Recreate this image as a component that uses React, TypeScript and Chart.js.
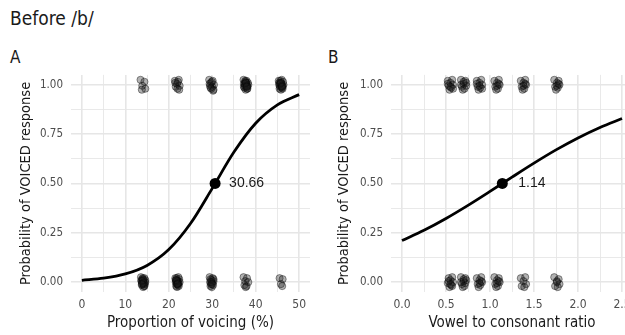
import React, { useEffect, useRef } from 'react';
import { Chart, registerables } from 'chart.js';
Chart.register(...registerables);

const FONT = '"Liberation Sans Narrow", "DejaVu Sans Condensed", "Roboto Condensed", sans-serif';
const LABEL_FONT = '"Liberation Sans", Arial, sans-serif';

// ---------- Panel A data: proportion of voicing (%) ----------
const voicingTicks = [0, 5, 10, 15, 20, 25, 30, 35, 40, 45, 50];
const voicingTickLabels = ['0', '', '10', '', '20', '', '30', '', '40', '', '50'];
const voicingTopX = [
  13.5, 14.4, 13.9, 14.6, 13.8,
  21.4, 22.3, 21.9, 21.6, 22.5, 22.0, 22.4, 21.5, 22.1,
  29.3, 30.1, 29.7, 30.4, 29.5, 30.0, 29.8, 30.3, 29.4, 29.9, 29.6, 30.2,
  37.2, 37.9, 37.6, 38.2, 37.3, 37.8, 37.5, 38.1, 37.4, 38.0, 37.7, 38.3, 37.3, 37.8, 37.6, 38.1, 37.5, 38.0, 37.7, 37.9,
  45.3, 46.0, 45.7, 46.3, 45.4, 45.9, 45.6, 46.2, 45.5, 46.1, 45.8, 46.4, 45.4, 45.9, 45.7, 46.2, 45.6, 46.0, 45.8, 46.1,
];
const voicingTopY = [
  1.025, 1.015, 0.995, 0.98, 0.975,
  1.02, 1.025, 1.005, 0.99, 0.995, 0.98, 0.975, 1.01, 1.015,
  1.025, 1.02, 1.01, 1.0, 0.995, 0.99, 0.98, 0.975, 1.005, 1.015, 0.985, 0.97,
  1.025, 1.02, 1.015, 1.01, 1.005, 1.0, 0.995, 0.99, 0.985, 0.98, 0.975, 1.0, 0.99, 1.01, 1.02, 0.98, 1.005, 0.995, 1.01, 0.99,
  1.02, 1.025, 1.01, 1.015, 1.0, 1.005, 0.99, 0.995, 0.98, 0.985, 0.975, 1.0, 1.01, 0.99, 1.02, 0.98, 1.005, 0.995, 1.01, 0.99,
];
const voicingBottomX = [
  13.6, 14.4, 14.0, 14.6, 13.7, 14.2, 13.9, 14.5, 13.8, 14.3, 14.1, 14.6, 13.7, 14.2, 14.0, 14.4, 13.9, 14.2, 14.1, 13.8,
  21.5, 22.2, 21.9, 22.4, 21.6, 22.1, 21.8, 22.3, 21.7, 22.2, 21.9, 22.5, 21.6, 22.0, 21.8, 22.3, 21.9, 22.1, 21.7, 22.0,
  29.4, 30.1, 29.8, 30.3, 29.5, 30.0, 29.7, 30.2, 29.6, 29.9, 30.3, 29.6, 29.8, 30.0,
  37.2, 38.0, 37.6, 38.3, 37.4, 37.9, 37.7,
  45.5, 46.2, 45.8, 46.1,
];
const voicingBottomY = [
  0.025, 0.02, 0.015, 0.01, 0.005, 0, -0.005, -0.01, -0.015, -0.02, -0.025, 0.0, 0.01, -0.01, 0.02, -0.02, 0.005, -0.005, 0.01, -0.01,
  0.02, 0.025, 0.01, 0.015, 0.0, 0.005, -0.01, -0.005, -0.02, -0.015, -0.025, 0.0, 0.01, -0.01, 0.02, -0.02, 0.005, -0.005, 0.01, -0.01,
  0.025, 0.02, 0.01, 0.005, 0.0, -0.005, -0.01, -0.015, -0.02, -0.025, 0.015, 0.015, 0.0, -0.01,
  0.025, 0.02, 0.005, 0.0, -0.015, -0.02, -0.025,
  0.02, 0.015, -0.01, -0.02,
];
const voicingCurveX = [0, 5, 10, 15, 20, 25, 30, 35, 40, 45, 50];
const voicingCurveY = [0.0094, 0.0198, 0.0415, 0.0847, 0.165, 0.297, 0.475, 0.659, 0.805, 0.898, 0.95];
const voicingMid = [30.66];
const voicingMidLabel = ['30.66'];

// ---------- Panel B data: vowel to consonant ratio ----------
const ratioTicks = [0, 0.25, 0.5, 0.75, 1.0, 1.25, 1.5, 1.75, 2.0, 2.25, 2.5];
const ratioTickLabels = ['0.0', '', '0.5', '', '1.0', '', '1.5', '', '2.0', '', '2.5'];
const ratioTopX = [
  0.52, 0.57, 0.55, 0.58, 0.53, 0.56, 0.54, 0.58, 0.52, 0.55,
  0.67, 0.72, 0.70, 0.73, 0.68, 0.71, 0.69, 0.73, 0.67, 0.70,
  0.85, 0.90, 0.88, 0.91, 0.86, 0.89, 0.87, 0.91, 0.85, 0.88,
  1.05, 1.10, 1.08, 1.11, 1.06, 1.09, 1.07, 1.10, 1.08,
  1.35, 1.40, 1.38, 1.41, 1.36, 1.39, 1.37, 1.40, 1.38,
  1.73, 1.78, 1.76, 1.79, 1.74, 1.77, 1.75, 1.78, 1.76,
];
const ratioTopY = [
  1.02, 1.025, 1.01, 1.0, 0.995, 0.985, 0.975, 0.98, 1.005, 0.99,
  1.025, 1.02, 1.005, 1.01, 0.99, 0.98, 0.975, 0.995, 1.0, 1.015,
  1.02, 1.025, 1.01, 1.0, 0.99, 0.985, 0.975, 0.98, 1.005, 0.995,
  1.02, 1.025, 1.01, 1.0, 0.99, 0.98, 0.975, 1.005, 0.995,
  1.02, 1.025, 1.01, 1.0, 0.99, 0.98, 0.975, 1.005, 0.995,
  1.025, 1.02, 1.01, 1.0, 0.99, 0.985, 0.975, 1.005, 0.995,
];
const ratioBottomX = [
  0.53, 0.57, 0.55, 0.58, 0.52, 0.56, 0.54, 0.57, 0.53, 0.55,
  0.67, 0.72, 0.70, 0.73, 0.68, 0.71, 0.69, 0.72, 0.67, 0.70,
  0.85, 0.90, 0.88, 0.91, 0.86, 0.89, 0.87, 0.90, 0.88,
  1.05, 1.10, 1.08, 1.11, 1.06, 1.09, 1.07, 1.10, 1.08,
  1.35, 1.40, 1.38, 1.41, 1.36, 1.39,
  1.73, 1.78, 1.76, 1.79, 1.74, 1.77, 1.76,
];
const ratioBottomY = [
  0.02, 0.025, 0.01, 0.0, -0.005, -0.015, -0.025, -0.02, 0.005, -0.01,
  0.025, 0.02, 0.005, 0.01, -0.01, -0.02, -0.025, -0.005, 0.0, 0.015,
  0.02, 0.025, 0.01, 0.0, -0.01, -0.015, -0.025, 0.005, -0.005,
  0.025, 0.02, 0.01, 0.0, -0.01, -0.02, -0.025, 0.005, -0.005,
  0.02, 0.025, 0.005, -0.01, -0.02, -0.025,
  0.025, 0.015, 0.005, -0.01, -0.02, -0.025, 0.0,
];
const ratioCurveX = [0, 0.25, 0.5, 0.75, 1.0, 1.25, 1.5, 1.75, 2.0, 2.25, 2.5];
const ratioCurveY = [0.2105, 0.2627, 0.3226, 0.389, 0.4596, 0.532, 0.603, 0.67, 0.7307, 0.7838, 0.829];
const ratioMid = [1.14];
const ratioMidLabel = ['1.14'];

// ---------- shared y axis ----------
const yTicks = [0, 0.125, 0.25, 0.375, 0.5, 0.625, 0.75, 0.875, 1];
const yTickLabels = ['0.00', '', '0.25', '', '0.50', '', '0.75', '', '1.00'];

const zip = (xs: number[], ys: number[]) => xs.map((x, i) => ({ x, y: ys[i] }));

const midLabelPlugin = {
  id: 'midLabel',
  afterDatasetsDraw(chart: any) {
    const o = chart.options.plugins.midLabel;
    if (!o) return;
    const { ctx } = chart;
    const xs = chart.scales.x;
    const ys = chart.scales.y;
    ctx.save();
    ctx.font = `14px ${LABEL_FONT}`;
    ctx.fillStyle = '#1a1a1a';
    ctx.textAlign = 'left';
    ctx.textBaseline = 'middle';
    ctx.fillText(o.text, xs.getPixelForValue(o.x) + o.dx, ys.getPixelForValue(0.5));
    ctx.restore();
  },
};

type PanelProps = {
  left: number;
  width: number;
  yAxisWidth: number;
  padRight: number;
  xMin: number;
  xMax: number;
  xTicks: number[];
  xTickLabels: string[];
  xTitle: string;
  topX: number[];
  topY: number[];
  bottomX: number[];
  bottomY: number[];
  curveX: number[];
  curveY: number[];
  mid: number;
  midText: string;
  midDx: number;
};

function Panel(p: PanelProps) {
  const ref = useRef<HTMLCanvasElement | null>(null);
  useEffect(() => {
    if (!ref.current) return;
    const pointStyle = {
      pointRadius: 3.6,
      pointBorderWidth: 0.8,
      pointBorderColor: 'rgba(0,0,0,0.5)',
      pointBackgroundColor: 'rgba(30,30,30,0.34)',
      showLine: false,
    };
    const gridWidth = (labels: string[]) => (c: any) => (labels[c.index] ? 1.6 : 0.9);
    const chart = new Chart(ref.current, {
      type: 'scatter',
      data: {
        datasets: [
          { data: zip(p.topX, p.topY), ...pointStyle },
          { data: zip(p.bottomX, p.bottomY), ...pointStyle },
          {
            type: 'line',
            data: zip(p.curveX, p.curveY),
            borderColor: '#000',
            borderWidth: 2.8,
            pointRadius: 0,
            cubicInterpolationMode: 'monotone',
            fill: false,
          } as any,
          {
            data: [{ x: p.mid, y: 0.5 }],
            pointRadius: 5.5,
            pointBackgroundColor: '#000',
            pointBorderColor: '#000',
            pointBorderWidth: 0,
          },
        ],
      },
      options: {
        animation: false,
        responsive: false,
        events: [],
        layout: { padding: { top: 6, right: p.padRight, left: 0, bottom: 0 } },
        plugins: {
          legend: { display: false },
          tooltip: { enabled: false },
          midLabel: { x: p.mid, text: p.midText, dx: p.midDx },
        } as any,
        scales: {
          x: {
            type: 'linear',
            min: p.xMin,
            max: p.xMax,
            border: { display: false },
            grid: {
              drawTicks: false,
              color: '#e6e6e6',
              lineWidth: gridWidth(p.xTickLabels),
            },
            afterBuildTicks: (s: any) => {
              s.ticks = p.xTicks.map((v) => ({ value: v }));
            },
            ticks: {
              autoSkip: false,
              maxRotation: 0,
              padding: 6,
              color: '#4d4d4d',
              font: { family: FONT, size: 12 },
              callback: (_v: any, i: number) => p.xTickLabels[i],
            },
            title: {
              display: true,
              text: p.xTitle,
              color: '#1a1a1a',
              font: { family: FONT, size: 15 },
              padding: { top: 0, bottom: 3 },
            },
            afterFit: (s: any) => {
              s.height = 43;
            },
          },
          y: {
            type: 'linear',
            min: -0.05,
            max: 1.05,
            border: { display: false },
            grid: {
              drawTicks: false,
              color: '#e6e6e6',
              lineWidth: gridWidth(yTickLabels),
            },
            afterBuildTicks: (s: any) => {
              s.ticks = yTicks.map((v) => ({ value: v }));
            },
            ticks: {
              autoSkip: false,
              padding: 8,
              color: '#4d4d4d',
              font: { family: FONT, size: 11.5 },
              callback: (_v: any, i: number) => yTickLabels[i],
            },
            title: {
              display: true,
              text: 'Probability of VOICED response',
              color: '#1a1a1a',
              font: { family: FONT, size: 14.5 },
              padding: { top: 18, bottom: 0 },
            },
            afterFit: (s: any) => {
              s.width = p.yAxisWidth;
            },
          },
        },
      },
      plugins: [midLabelPlugin],
    } as any);
    return () => chart.destroy();
  }, []);
  return (
    <canvas
      ref={ref}
      width={p.width}
      height={275}
      style={{ position: 'absolute', left: p.left, top: 60, width: p.width, height: 275 }}
    />
  );
}

export default function App() {
  return (
    <div
      style={{
        position: 'fixed',
        left: 0,
        top: 0,
        width: 625,
        height: 335,
        overflow: 'hidden',
        background: '#fff',
        fontFamily: FONT,
        color: '#1a1a1a',
      }}
    >
      <div style={{ position: 'absolute', left: 10, top: 7, fontSize: 19 }}>Before /b/</div>
      <div style={{ position: 'absolute', left: 10, top: 47, fontSize: 17 }}>A</div>
      <div style={{ position: 'absolute', left: 328, top: 47, fontSize: 17 }}>B</div>
      <Panel
        left={0}
        width={318}
        yAxisWidth={71}
        padRight={8}
        xMin={-2.5}
        xMax={52.5}
        xTicks={voicingTicks}
        xTickLabels={voicingTickLabels}
        xTitle="Proportion of voicing (%)"
        topX={voicingTopX}
        topY={voicingTopY}
        bottomX={voicingBottomX}
        bottomY={voicingBottomY}
        curveX={voicingCurveX}
        curveY={voicingCurveY}
        mid={voicingMid[0]}
        midText={voicingMidLabel[0]}
        midDx={14}
      />
      <Panel
        left={318}
        width={322}
        yAxisWidth={73}
        padRight={7}
        xMin={-0.125}
        xMax={2.625}
        xTicks={ratioTicks}
        xTickLabels={ratioTickLabels}
        xTitle="Vowel to consonant ratio"
        topX={ratioTopX}
        topY={ratioTopY}
        bottomX={ratioBottomX}
        bottomY={ratioBottomY}
        curveX={ratioCurveX}
        curveY={ratioCurveY}
        mid={ratioMid[0]}
        midText={ratioMidLabel[0]}
        midDx={16}
      />
    </div>
  );
}
